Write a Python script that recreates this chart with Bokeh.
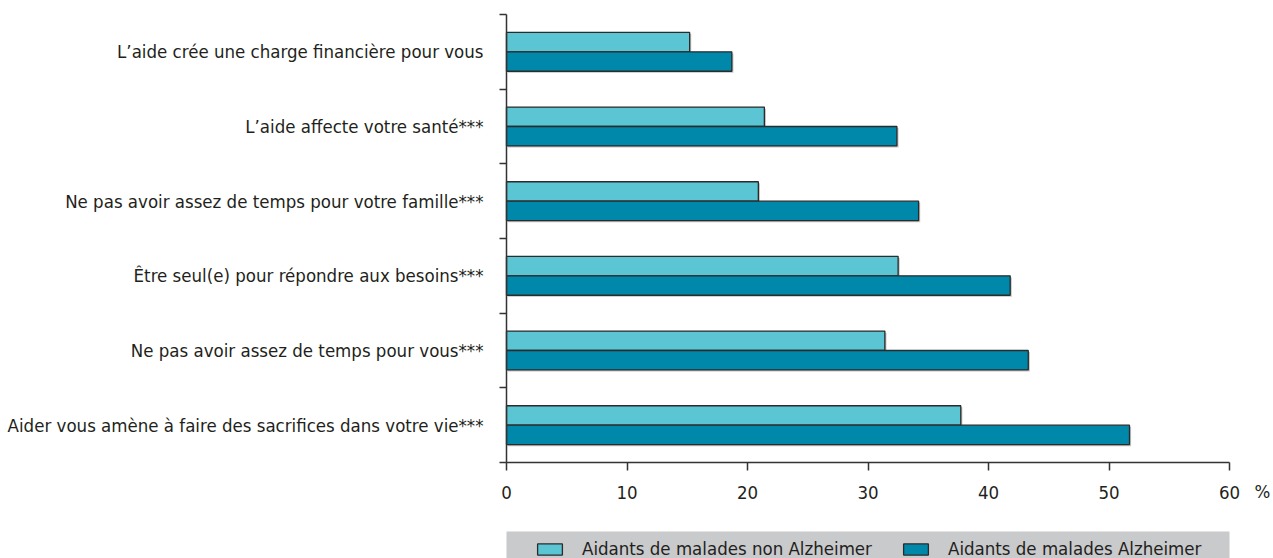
from bokeh.plotting import figure
from bokeh.models import Range1d, FixedTicker, Legend, LegendItem, Label, BoxAnnotation
from bokeh.embed import file_html
from bokeh.resources import INLINE

# ---- data ----
categories = [
    "L’aide crée une charge financière pour vous",
    "L’aide affecte votre santé***",
    "Ne pas avoir assez de temps pour votre famille***",
    "Être seul(e) pour répondre aux besoins***",
    "Ne pas avoir assez de temps pour vous***",
    "Aider vous amène à faire des sacrifices dans votre vie***",
]
non_alz = [15.2, 21.4, 20.9, 32.5, 31.4, 37.7]
alz = [18.7, 32.4, 34.2, 41.8, 43.3, 51.7]
series_names = ["Aidants de malades non Alzheimer", "Aidants de malades Alzheimer"]
x_ticks = [0, 10, 20, 30, 40, 50, 60]
unit_label = "%"

# ---- style / layout constants (pixels) ----
FONT = "DejaVu Sans Condensed"
FS = "18.5px"
TXT = "#231f20"
LIGHT = "#5bc5d4"
DARK = "#0088ab"
EDGE = "#2b2b2b"
SHADOW = "#c4c4c4"
GREY = "#c9cacc"
AX = "#333333"

W, H = 1273, 558
AXIS_X = 506                 # x = 0 (y axis position)
AXIS_RIGHT = 1229            # x = 60
AXIS_TOP = 14                # top of category axis
AXIS_Y = 462                 # y = 0 (x axis position)
LEG_TOP = 531                # top of grey legend band

n = len(categories)
px_x = (AXIS_RIGHT - AXIS_X) / (x_ticks[-1] - x_ticks[0])
px_y = (AXIS_Y - AXIS_TOP) / n
x_start = x_ticks[0] - AXIS_X / px_x
x_end = x_ticks[0] + (W - AXIS_X) / px_x
y_start = -(H - AXIS_Y) / px_y
y_end = n + AXIS_TOP / px_y

centers = [n - i - 0.5 for i in range(n)]
bar_h = 0.26
off = 0.13

p = figure(width=W, height=H, output_backend="svg", toolbar_location=None,
           x_range=Range1d(x_start, x_end), y_range=Range1d(y_start, y_end),
           min_border_left=0, min_border_right=0, min_border_top=0, min_border_bottom=0)
p.outline_line_color = None
p.grid.visible = False

# grey legend band
p.add_layout(BoxAnnotation(left=x_ticks[0], right=x_ticks[-1], top=-(LEG_TOP - AXIS_Y) / px_y,
                           fill_color=GREY, fill_alpha=1, line_color=None, level="underlay"))

# shadows
sx, sy = 1.6 / px_x, 1.6 / px_y
p.hbar(y=[c + off - sy for c in centers], left=sx, right=[v + sx for v in non_alz], height=bar_h,
       fill_color=SHADOW, line_color=None)
p.hbar(y=[c - off - sy for c in centers], left=sx, right=[v + sx for v in alz], height=bar_h,
       fill_color=SHADOW, line_color=None)
# bars
r1 = p.hbar(y=[c + off for c in centers], left=0, right=non_alz, height=bar_h,
            fill_color=LIGHT, line_color=EDGE, line_width=1.3)
r2 = p.hbar(y=[c - off for c in centers], left=0, right=alz, height=bar_h,
            fill_color=DARK, line_color=EDGE, line_width=1.3)

# y axis: labels at centers, ticks at category boundaries
ya = p.yaxis[0]
ya.fixed_location = 0
ya.bounds = (0, n)
ya.ticker = FixedTicker(ticks=centers, minor_ticks=list(range(n + 1)))
ya.major_label_overrides = {c: lab for c, lab in zip(centers, categories)}
ya.major_tick_line_color = None
ya.major_tick_out = 8
ya.major_tick_in = 0
ya.minor_tick_out = 7
ya.minor_tick_in = 0
ya.minor_tick_line_color = AX
ya.minor_tick_line_width = 1.5
ya.axis_line_color = AX
ya.axis_line_width = 1.5
ya.major_label_standoff = 15
ya.major_label_text_font = FONT
ya.major_label_text_font_size = FS
ya.major_label_text_color = TXT

xa = p.xaxis[0]
xa.fixed_location = 0
xa.bounds = (x_ticks[0], x_ticks[-1])
xa.ticker = FixedTicker(ticks=x_ticks, minor_ticks=[])
xa.major_tick_out = 8
xa.major_tick_in = 0
xa.major_tick_line_color = AX
xa.major_tick_line_width = 1.5
xa.axis_line_color = AX
xa.axis_line_width = 1.5
xa.major_label_standoff = 15
xa.major_label_text_font = FONT
xa.major_label_text_font_size = FS
xa.major_label_text_color = TXT

p.add_layout(Label(x=x_ticks[-1], y=0, x_offset=25, y_offset=-18, text=unit_label,
                   text_baseline="top", text_align="left", text_font=FONT,
                   text_font_size=FS, text_color=TXT))

# legends (one per series, placed in the grey band)
for r, name, lx in [(r1, series_names[0], 534), (r2, series_names[1], 900)]:
    lg = Legend(items=[LegendItem(label=name, renderers=[r])], location=(lx, -1),
                background_fill_alpha=0, border_line_color=None, padding=0, margin=0,
                glyph_width=31, glyph_height=14, label_standoff=17,
                label_text_font=FONT, label_text_font_size=FS, label_text_color=TXT)
    p.add_layout(lg, "center")

open("out.html", "w").write(file_html(p, INLINE))
